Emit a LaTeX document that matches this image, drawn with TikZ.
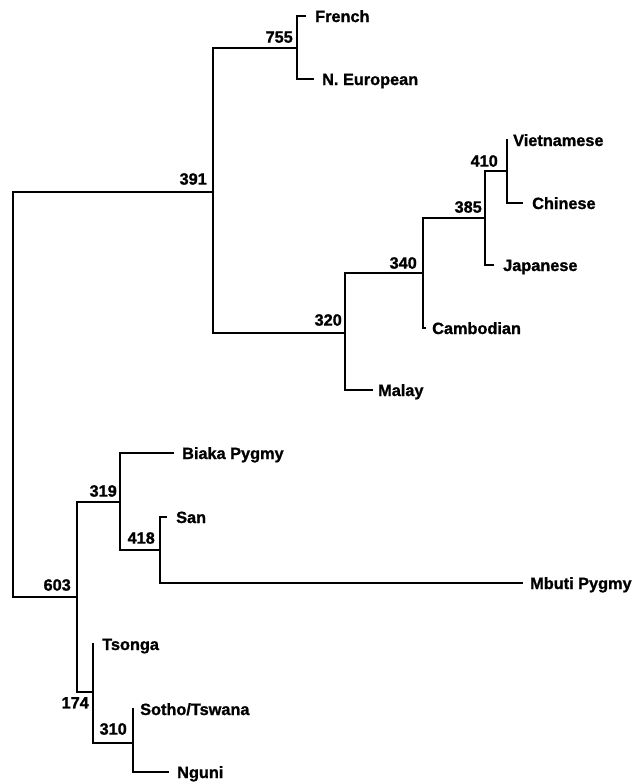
\documentclass[tikz,border=0pt]{standalone}
\usepackage{fontspec}
\setmainfont[BoldFeatures={FakeBold=1.2}]{Liberation Sans}
\begin{document}
\begin{tikzpicture}[x=1pt,y=-1pt,
  br/.style={line width=2.6pt,line cap=rect},
  leaf/.style={anchor=base west,inner sep=0pt,yshift=-6pt,font=\bfseries\fontsize{16.3}{18}\selectfont},
  num/.style={anchor=south east,inner sep=0pt,font=\bfseries\fontsize{16.3}{18}\selectfont},
  numb/.style={anchor=north east,inner sep=0pt,font=\bfseries\fontsize{16.3}{18}\selectfont}]
\useasboundingbox (0,0) rectangle (635,782);
% internal nodes
\coordinate (r) at (13,400);
\coordinate (n391) at (213,192);
\coordinate (n755) at (297,48);
\coordinate (n320) at (345,333);
\coordinate (n340) at (423,273);
\coordinate (n385) at (485,218);
\coordinate (n410) at (507,171);
\coordinate (n603) at (77,597);
\coordinate (n319) at (120,502);
\coordinate (n418) at (160,550);
\coordinate (n174) at (93,692);
\coordinate (n310) at (133,743);
% tips
\coordinate (tFrench) at (305,16);
\coordinate (tNEur) at (313,79);
\coordinate (tMalay) at (372,390);
\coordinate (tCamb) at (425,328);
\coordinate (tJap) at (493,265);
\coordinate (tViet) at (507,140);
\coordinate (tChin) at (522,203);
\coordinate (tBiaka) at (173,453);
\coordinate (tSan) at (166,517);
\coordinate (tMbuti) at (522,583);
\coordinate (tTsonga) at (93,644);
\coordinate (tSotho) at (133,709);
\coordinate (tNguni) at (168,772);
% branches
\draw[br] (n391) -| (r) |- (n603);
\draw[br] (n755) -| (n391) |- (n320);
\draw[br] (tFrench) -| (n755) |- (tNEur);
\draw[br] (n340) -| (n320) |- (tMalay);
\draw[br] (n385) -| (n340) |- (tCamb);
\draw[br] (n410) -| (n385) |- (tJap);
\draw[br] (tViet) -| (n410) |- (tChin);
\draw[br] (n319) -| (n603) |- (n174);
\draw[br] (tBiaka) -| (n319) |- (n418);
\draw[br] (tSan) -| (n418) |- (tMbuti);
\draw[br] (tTsonga) -| (n174) |- (n310);
\draw[br] (tSotho) -| (n310) |- (tNguni);
% leaf labels
\node[leaf] (lFrench) at (315,16) {French};
\node[leaf] (lNEur) at (322,79) {N. European};
\node[leaf] (lViet) at (513,140) {Vietnamese};
\node[leaf] (lChin) at (532,203) {Chinese};
\node[leaf] (lJap) at (503,265) {Japanese};
\node[leaf] (lCamb) at (432,328) {Cambodian};
\node[leaf] (lMalay) at (378,390) {Malay};
\node[leaf] (lBiaka) at (182,453) {Biaka Pygmy};
\node[leaf] (lSan) at (176,517) {San};
\node[leaf] (lMbuti) at (530,583) {Mbuti Pygmy};
\node[leaf] (lTsonga) at (102,644) {Tsonga};
\node[leaf] (lSotho) at (140,709) {Sotho/Tswana};
\node[leaf] (lNguni) at (177,772) {Nguni};
% bootstrap numbers
\node[num] (b755) at ([xshift=-4pt,yshift=5pt]n755) {755};
\node[num] (b391) at ([xshift=-6pt,yshift=7pt]n391) {391};
\node[num] (b320) at ([xshift=-3pt,yshift=7pt]n320) {320};
\node[num] (b340) at ([xshift=-6pt,yshift=4pt]n340) {340};
\node[num] (b385) at ([xshift=-3pt,yshift=5pt]n385) {385};
\node[num] (b410) at ([xshift=-9pt,yshift=4pt]n410) {410};
\node[num] (b603) at ([xshift=-6pt,yshift=6pt]n603) {603};
\node[num] (b319) at ([xshift=-3pt,yshift=5pt]n319) {319};
\node[num] (b418) at ([xshift=-5pt,yshift=6pt]n418) {418};
\node[numb] (b174) at ([xshift=-4pt,yshift=-5pt]n174) {174};
\node[num] (b310) at ([xshift=-6pt,yshift=8pt]n310) {310};
\end{tikzpicture}
\end{document}
